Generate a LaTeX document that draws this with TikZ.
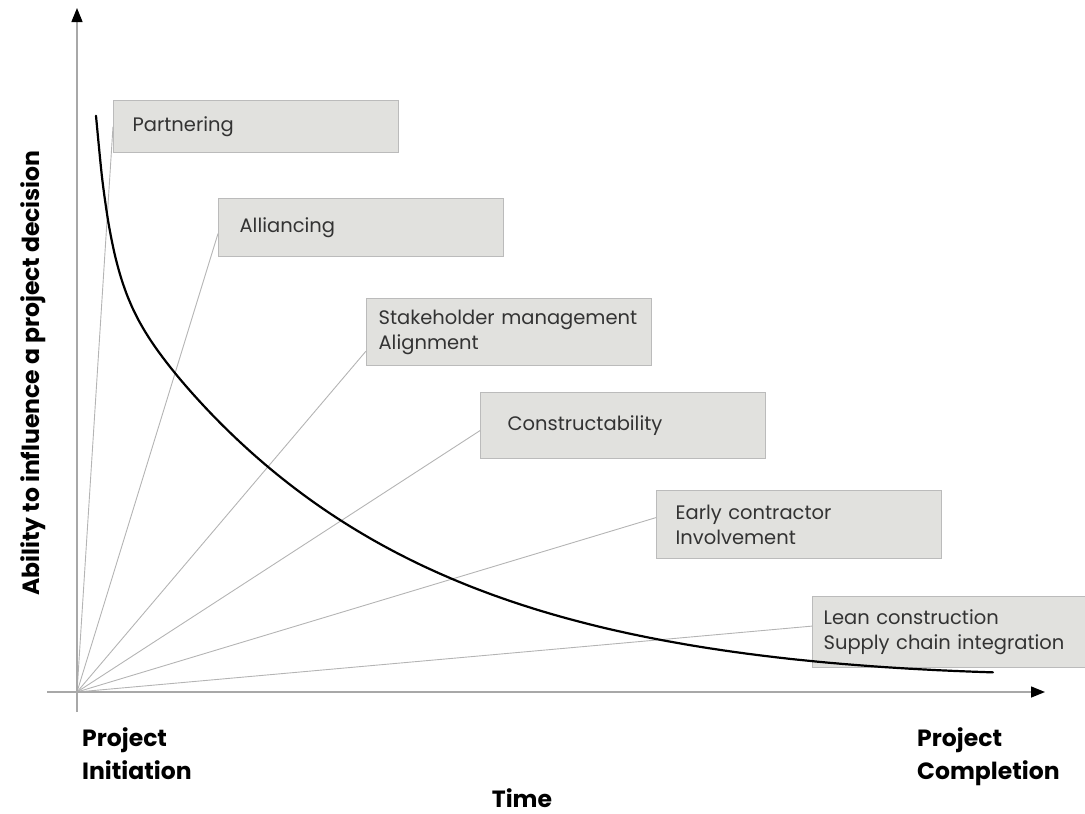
\documentclass[tikz,border=0pt]{standalone}
\usepackage{fontspec}
\setmainfont{Poppins}
\usepackage{tikz}
\usetikzlibrary{arrows.meta,positioning,calc}

\definecolor{boxfill}{HTML}{E1E1DE}
\definecolor{boxline}{HTML}{BBBBBB}
\definecolor{fanline}{HTML}{B4B4B4}
\definecolor{axisline}{HTML}{A8A8A8}

\begin{document}
\begin{tikzpicture}[
    x=1pt, y=-1pt,
    tool/.style={rectangle, draw=boxline, line width=1.2pt, fill=boxfill, anchor=north west,
        align=left, font=\fontsize{19.5}{25}\selectfont, text=black!80},
    fan/.style={draw=fanline, line width=0.9pt},
    axis/.style={draw=axisline, line width=1.4pt, -{Triangle[length=14pt, width=11pt, color=black]}},
    lbl/.style={font=\fontsize{23.5}{33}\selectfont\bfseries, align=left},
]
    \useasboundingbox (0,0) rectangle (1085,814);

    \coordinate (O) at (77,692);

    % boxes
    \node[tool, inner xsep=19pt, text width=247pt, minimum height=52pt] (partner) at (113,100) {Partnering};
    \node[tool, inner xsep=21pt, text width=243pt, minimum height=58pt] (alliance) at (218,198) {Alliancing};
    \node[tool, inner xsep=12pt, text width=261pt, minimum height=67pt] (stake) at (366,298) {Stakeholder management\\Alignment};
    \node[tool, inner xsep=27pt, text width=231pt, minimum height=66pt] (construct) at (480,392) {Constructability};
    \node[tool, inner xsep=19pt, text width=247pt, minimum height=68pt] (early) at (656,490) {Early contractor\\Involvement};
    \node[tool, inner xsep=11pt, text width=251pt, minimum height=71pt] (lean) at (812,596) {Lean construction\\Supply chain integration};

    % fan lines from the origin
    \draw[fan] (O) -- (partner.west);
    \draw[fan] (O) -- ([yshift=-6pt]alliance.west);
    \draw[fan] (O) -- ([yshift=-19pt]stake.west);
    \draw[fan] (O) -- ([yshift=-5pt]construct.west);
    \draw[fan] (O) -- ([yshift=7pt]early.west);
    \draw[fan] (O) -- ([yshift=6pt]lean.west);

    % axes
    \coordinate (ybot) at (77,712);
    \coordinate (ytop) at (77,8);
    \coordinate (xleft) at (47,692);
    \coordinate (xright) at (1045,692);
    \draw[axis] (ybot) -- (ytop);
    \draw[axis] (xleft) -- (xright);

    % influence curve
    \draw[line width=2.2pt, line cap=round] plot[domain=0:897, samples=150, smooth]
        ({96+\x}, {672 - (429*exp(-\x/270) - 21.8 + 149*exp(-\x/14) + 6*(\x/897)^4)});

    % axis labels
    \node[lbl, anchor=north west, inner sep=0pt] (init) at (82,727) {Project\\Initiation};
    \node[lbl, anchor=north west, inner sep=0pt] (compl) at (917,727) {Project\\Completion};
    \node[lbl, anchor=base, inner sep=0pt] (time) at (522,807) {Time};
    \node[lbl, rotate=90] (ability) at (33,373) {Ability to influence a project decision};
\end{tikzpicture}
\end{document}
